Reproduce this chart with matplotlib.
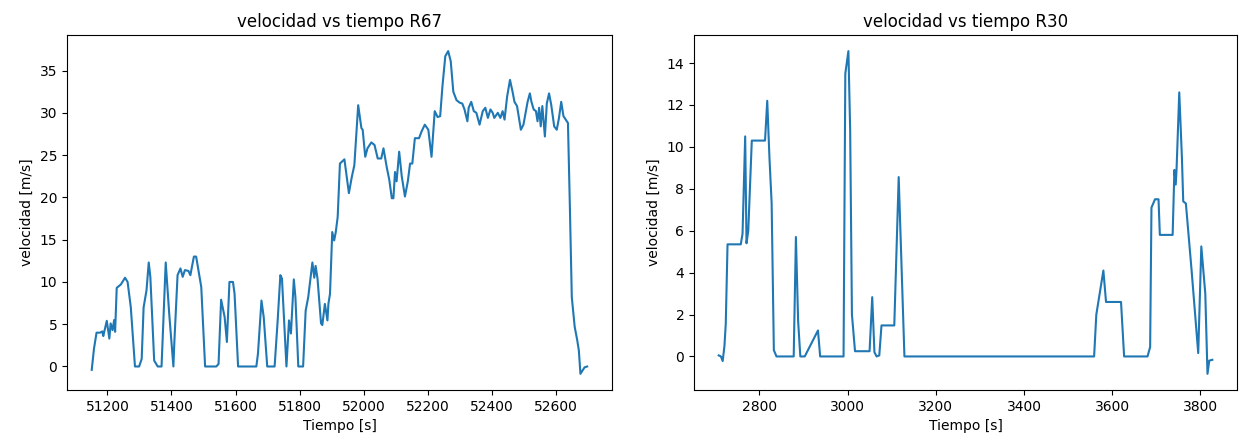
import matplotlib
matplotlib.use('Agg')
import matplotlib.pyplot as plt

# R67: tiempo [s] y velocidad [m/s]
t_r67 = [51151, 51158, 51166, 51177, 51184, 51187, 51198, 51206, 51210, 51216,
         51221, 51224, 51229, 51242, 51255, 51263, 51273, 51286, 51299, 51307,
         51313, 51322, 51329, 51334, 51346, 51357, 51369, 51382, 51393, 51406,
         51409, 51419, 51428, 51435, 51442, 51453, 51459, 51470, 51477, 51484,
         51493, 51505, 51540, 51547, 51555, 51566, 51573, 51581, 51592, 51597,
         51608, 51665, 51670, 51681, 51688, 51699, 51722, 51731, 51740, 51745,
         51759, 51767, 51773, 51782, 51787, 51796, 51811, 51819, 51827, 51840,
         51846, 51850, 51856, 51867, 51871, 51879, 51887, 51890, 51895, 51902,
         51908, 51913, 51919, 51926, 51940, 51954, 51963, 51971, 51983, 51993,
         51997, 52005, 52012, 52024, 52034, 52044, 52055, 52062, 52072, 52080,
         52088, 52093, 52098, 52103, 52111, 52119, 52129, 52138, 52145, 52152,
         52160, 52173, 52181, 52191, 52202, 52212, 52222, 52231, 52239, 52246,
         52255, 52264, 52272, 52280, 52290, 52300, 52308, 52315, 52324, 52328,
         52336, 52344, 52352, 52362, 52372, 52380, 52388, 52396, 52403, 52408,
         52419, 52427, 52434, 52440, 52448, 52457, 52465, 52471, 52479, 52486,
         52491, 52499, 52512, 52519, 52524, 52531, 52538, 52543, 52548, 52553,
         52558, 52566, 52572, 52579, 52586, 52595, 52603, 52610, 52617, 52624,
         52631, 52638, 52644, 52650, 52659, 52667, 52672, 52677, 52683, 52690,
         52698]
v_r67 = [-0.4, 2.1, 4.0, 4.0, 4.15, 3.6, 5.4, 3.3, 5.1, 4.3,
         5.5, 4.1, 9.3, 9.7, 10.5, 10.0, 7.0, 0.0, 0.0, 0.9,
         7.0, 9.0, 12.3, 10.6, 0.7, 0.0, 0.0, 12.3, 6.2, 0.0,
         2.9, 10.8, 11.6, 10.6, 11.4, 11.3, 10.8, 13.0, 13.0, 11.4,
         9.4, 0.0, 0.0, 0.3, 7.9, 5.85, 2.9, 10.0, 10.0, 8.6,
         0.0, 0.0, 1.5, 7.8, 5.85, 0.0, 0.0, 5.1, 10.8, 10.4,
         0.0, 5.45, 3.9, 10.3, 8.2, 0.0, 0.0, 6.6, 8.2, 12.3,
         10.5, 11.9, 10.4, 5.1, 4.9, 7.4, 5.45, 7.4, 8.6, 15.9,
         14.9, 15.9, 17.7, 24.0, 24.5, 20.5, 22.4, 23.8, 30.9, 28.2,
         28.0, 24.8, 25.8, 26.5, 26.2, 24.6, 24.6, 25.8, 23.6, 22.1,
         19.9, 19.9, 23.0, 21.9, 25.4, 22.5, 20.1, 21.9, 24.0, 24.0,
         27.0, 27.0, 27.8, 28.6, 28.0, 24.8, 30.2, 29.5, 29.6, 33.1,
         36.7, 37.3, 36.1, 32.5, 31.5, 31.2, 31.1, 30.4, 29.0, 30.6,
         31.3, 30.2, 30.0, 28.6, 30.2, 30.6, 29.4, 30.4, 30.0, 29.4,
         30.0, 29.4, 30.2, 29.2, 31.9, 33.9, 32.5, 31.3, 30.8, 29.2,
         28.0, 28.6, 31.3, 32.3, 31.3, 30.4, 30.2, 29.0, 30.6, 28.4,
         30.8, 27.2, 31.1, 32.3, 30.9, 28.4, 28.0, 29.4, 31.3, 29.6,
         29.2, 28.8, 18.9, 8.2, 4.7, 3.1, 1.9, -0.87, -0.5, -0.1,
         0.0]

# R30
t_r30 = [2708, 2713, 2717, 2721, 2724, 2728, 2758, 2762, 2768, 2771,
         2775, 2783, 2813, 2818, 2823, 2828, 2833, 2839, 2878, 2883,
         2888, 2893, 2903, 2933, 2938, 2991, 2995, 3002, 3006, 3010,
         3017, 3050, 3056, 3061, 3066, 3072, 3077, 3106, 3116, 3129,
         3559, 3564, 3580, 3586, 3620, 3627, 3680, 3686, 3689, 3697,
         3705, 3708, 3737, 3741, 3744, 3746, 3752, 3758, 3761, 3767,
         3780, 3795, 3802, 3811, 3816, 3820, 3827]
v_r30 = [0.05, 0.0, -0.22, 0.5, 1.56, 5.35, 5.35, 5.85, 10.5, 5.4,
         6.0, 10.3, 10.3, 12.2, 9.5, 7.3, 0.3, 0.0, 0.0, 5.7,
         1.7, 0.0, 0.0, 1.24, 0.0, 0.0, 13.5, 14.57, 10.8, 2.0,
         0.25, 0.25, 2.83, 0.2, 0.0, 0.05, 1.48, 1.48, 8.56, 0.0,
         0.0, 2.0, 4.1, 2.6, 2.6, 0.0, 0.0, 0.45, 7.1, 7.5,
         7.5, 5.8, 5.8, 8.9, 8.2, 9.0, 12.6, 9.5, 7.4, 7.3,
         4.1, 0.16, 5.25, 3.0, -0.83, -0.2, -0.16]

fig = plt.figure(figsize=(12.4, 4.46), dpi=100)
ax1 = fig.add_axes([0.054, 0.1256, 0.4395, 0.796])
ax2 = fig.add_axes([0.5597, 0.1256, 0.4379, 0.796])

ax1.plot(t_r67, v_r67, color='#1f77b4', lw=1.5)
ax1.set_title('velocidad vs tiempo R67')
ax1.set_xlabel('Tiempo [s]')
ax1.set_ylabel('velocidad [m/s]')

ax2.plot(t_r30, v_r30, color='#1f77b4', lw=1.5)
ax2.set_title('velocidad vs tiempo R30')
ax2.set_xlabel('Tiempo [s]')
ax2.set_ylabel('velocidad [m/s]')

fig.savefig('out.png', dpi=100)
